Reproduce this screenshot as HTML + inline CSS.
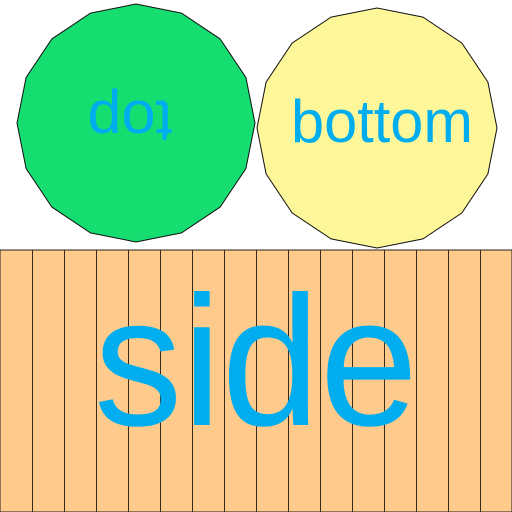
<!DOCTYPE html>
<html><head><style>html,body{margin:0;padding:0;background:#fff;width:512px;height:512px;overflow:hidden}</style></head>
<body>
<svg width="512" height="512" viewBox="0 0 512 512">
<rect x="0" y="250" width="512" height="262" fill="#fecb8c" stroke="#222" stroke-width="1"/>
<g id="lines" stroke="#3a2a1a" stroke-width="1"></g>
<polygon id="g" fill="#16dd70" stroke="#111" stroke-width="1"/>
<polygon id="y" fill="#fdf799" stroke="#111" stroke-width="1"/>
<text x="130" y="143" transform="rotate(180 130 122)" text-anchor="middle" font-family="Liberation Sans, sans-serif" font-size="60" fill="#00aeef" textLength="85" lengthAdjust="spacingAndGlyphs">top</text>
<text x="291" y="142" font-family="Liberation Sans, sans-serif" font-size="60" fill="#00aeef" textLength="182" lengthAdjust="spacingAndGlyphs">bottom</text>
<text x="94" y="425" font-family="Liberation Sans, sans-serif" font-size="185" fill="#00aeef" textLength="324" lengthAdjust="spacingAndGlyphs">side</text>
</svg>
<script>
function poly(cx,cy,r){let p=[];for(let i=0;i<16;i++){let a=i*Math.PI/8;p.push((cx+r*Math.sin(a)).toFixed(1)+','+(cy-r*Math.cos(a)).toFixed(1));}return p.join(' ');}
document.getElementById('g').setAttribute('points',poly(136,123,119));
document.getElementById('y').setAttribute('points',poly(377,128,120));
const L=document.getElementById('lines');
for(let x=32;x<512;x+=32){const l=document.createElementNS('http://www.w3.org/2000/svg','line');
l.setAttribute('x1',x+0.5);l.setAttribute('x2',x+0.5);l.setAttribute('y1',250);l.setAttribute('y2',512);


L.appendChild(l);}
</script>
</body></html>
